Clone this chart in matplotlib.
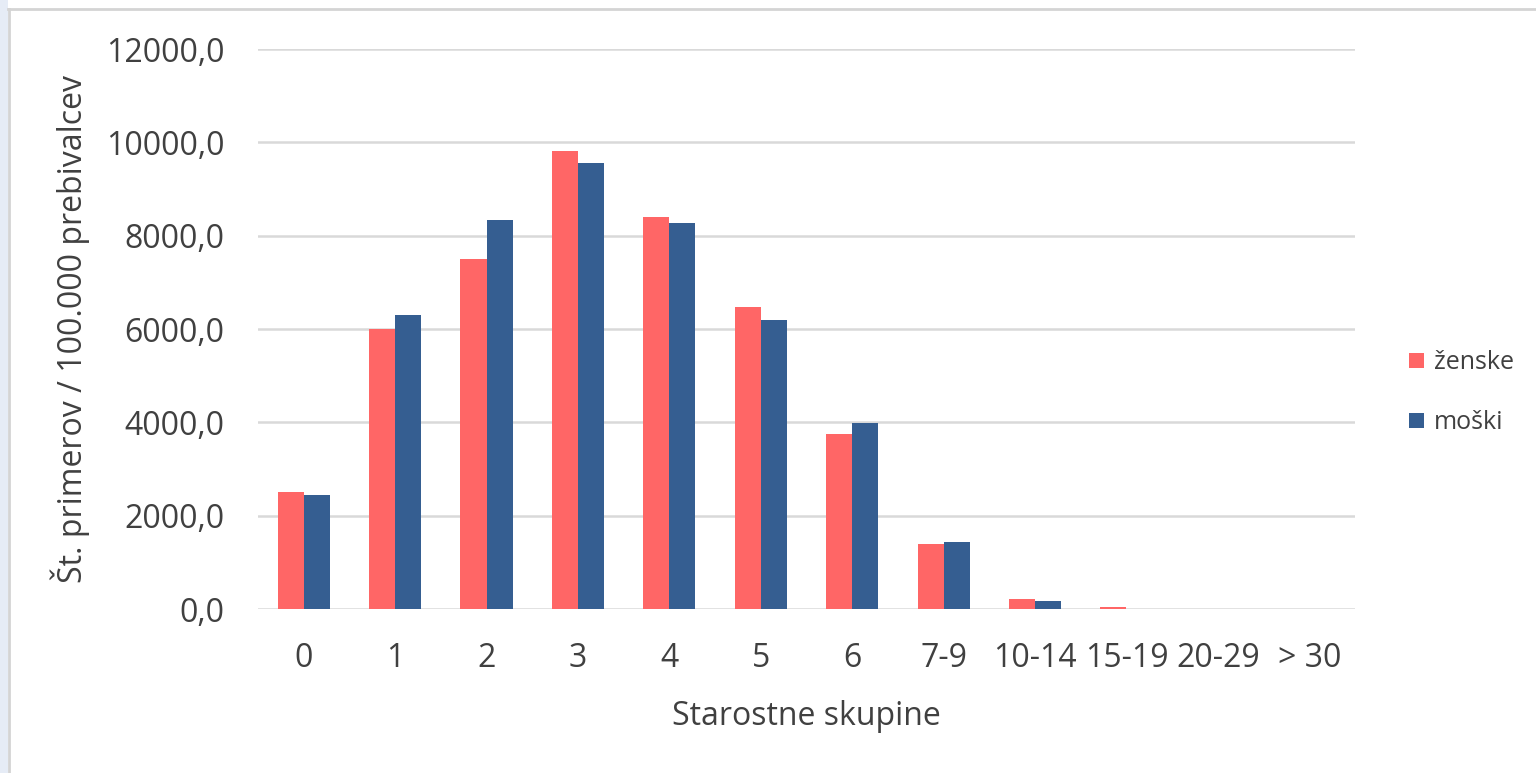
import numpy as np
import matplotlib
matplotlib.use("Agg")
import matplotlib.pyplot as plt
from matplotlib.patches import Rectangle
from matplotlib.lines import Line2D

# =========================
# Daten
# =========================
skupine = ["0", "1", "2", "3", "4", "5", "6", "7-9", "10-14", "15-19", "20-29", "> 30"]
zenske = [2500, 6000, 7500, 9810, 8400, 6480, 3750, 1400, 220, 50, 0, 0]
moski = [2450, 6300, 8330, 9560, 8270, 6200, 3990, 1440, 180, 0, 0, 0]

C_Z = "#FF6666"
C_M = "#355E91"
GRID = "#D9D9D9"
TXT = "#404040"

plt.rcParams["font.family"] = ["Open Sans", "DejaVu Sans"]

fig = plt.figure(figsize=(15.36, 7.73), dpi=100)
W, H = 1536, 773

# screenshot frame: light blue strip on the left and gray border
fig.patches.append(Rectangle((0, 0), 8 / W, 1, transform=fig.transFigure,
                             facecolor="#E6ECF6", edgecolor="none", zorder=0))
fig.add_artist(Line2D([8.5 / W, 8.5 / W], [0, 1 - 9 / H], transform=fig.transFigure,
                      color="#D4D4D4", lw=2))
fig.add_artist(Line2D([8 / W, 1], [1 - 9 / H, 1 - 9 / H], transform=fig.transFigure,
                      color="#D4D4D4", lw=2))

ax = fig.add_axes([258 / W, 1 - 609 / H, (1355 - 258) / W, (609 - 49) / H])

x = np.arange(len(skupine))
bw = 0.285
ax.bar(x - bw / 2, zenske, bw, color=C_Z, label="ženske", zorder=3)
ax.bar(x + bw / 2, moski, bw, color=C_M, label="moški", zorder=3)

ax.set_xlim(-0.5, len(skupine) - 0.5)
ax.set_ylim(0, 12000)
ax.set_yticks(np.arange(0, 12001, 2000))
ax.set_yticklabels([f"{v},0" for v in range(0, 12001, 2000)])
ax.set_xticks(x)
ax.set_xticklabels(skupine)

ax.grid(axis="y", color=GRID, lw=1.8, zorder=0)
for s in ax.spines.values():
    s.set_visible(False)
ax.tick_params(length=0, labelsize=23, colors=TXT)
ax.tick_params(axis="y", pad=24)
ax.tick_params(axis="x", pad=24)

ax.set_xlabel("Starostne skupine", fontsize=23, color=TXT, labelpad=18)
ax.set_ylabel("Št. primerov / 100.000 prebivalcev", fontsize=23, color=TXT, labelpad=12)

leg = ax.legend(loc="center left", bbox_to_anchor=(1.049, 0.386), frameon=False,
                fontsize=18, handlelength=0.6, handleheight=0.6, handletextpad=0.4,
                labelspacing=1.4, labelcolor=TXT, borderaxespad=0, borderpad=0)

fig.savefig("out.png", dpi=100, facecolor="white")
